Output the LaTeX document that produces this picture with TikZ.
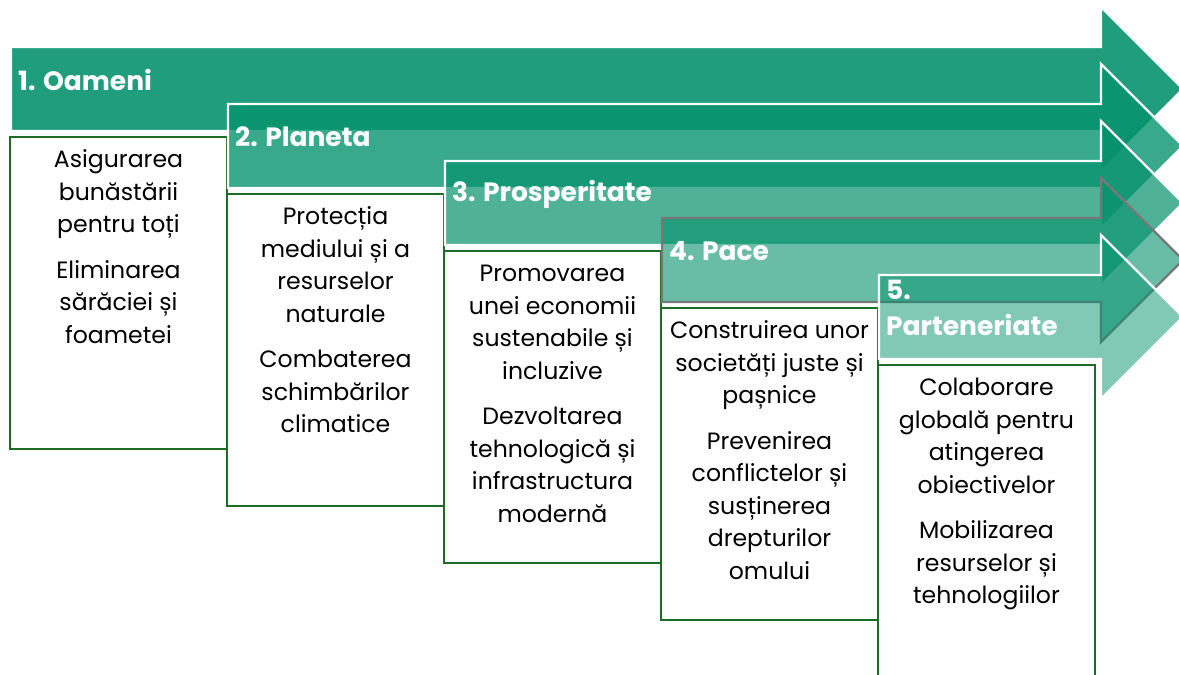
\documentclass[tikz,border=0pt]{standalone}
\usepackage{fontspec}
\setmainfont{Poppins}
\definecolor{arrowgreen}{RGB}{5,146,108}
\definecolor{boxgreen}{RGB}{28,108,38}
\definecolor{outgray}{RGB}{120,120,120}
\tikzset{
  arrowshape/.style={fill=arrowgreen, line width=2.2pt, line join=miter},
  boxshape/.style={draw=boxgreen, fill=white, line width=2.7pt},
  hdr/.style={text=white, font=\fontsize{26.5}{36}\selectfont\bfseries, inner sep=0pt, anchor=west, align=left},
  bodytxt/.style={text=black, font=\fontsize{23.6}{32.5}\selectfont, inner sep=0pt, anchor=north, align=center}
}
\begin{document}
\begin{tikzpicture}[x=1pt,y=-1pt]
\useasboundingbox (0,0) rectangle (1179,675);
\clip (0,0) rectangle (1179,675);
\fill[white] (0,0) rectangle (1179,675);
% arrows and boxes
\foreach \k/\op/\oc in {0/0.89/white,1/0.79/white,2/0.70/white,3/0.60/outgray,4/0.50/white}{
  \pgfmathsetmacro{\X}{11+217*\k}
  \pgfmathsetmacro{\T}{47+57*\k}
  \pgfmathsetmacro{\B}{131+57*\k}
  \draw[arrowshape, fill opacity=\op, draw=\oc]
    (\X,\T) -- (1101,\T) -- (1101,\T-40) -- (1183,\T+42) -- (1101,\B+40) -- (1101,\B) -- (\X,\B) -- cycle;
  \draw[boxshape] (\X-1,\B+6) rectangle (\X+216,\B+318);
}
% headers
\node[hdr] (h1) at (18,80) {1. Oameni};
\node[hdr] (h2) at (235,137) {2. Planeta};
\node[hdr] (h3) at (452,194) {3. Prosperitate};
\node[hdr] (h4) at (669,251) {4. Pace};
\node[hdr] (h5) at (886,308) {5.\\Parteneriate};
% box texts
\node[bodytxt] (t1) at (118.5,145) {\strut Asigurarea\\ bunăstării\\ pentru toți\\[13pt] Eliminarea\\ sărăciei și\\ foametei};
\node[bodytxt] (t2) at (335.5,202) {\strut Protecția\\ mediului și a\\ resurselor\\ naturale\\[13pt] Combaterea\\ schimbărilor\\ climatice};
\node[bodytxt] (t3) at (552.5,259) {\strut Promovarea\\ unei economii\\ sustenabile și\\ incluzive\\[13pt] Dezvoltarea\\ tehnologică și\\ infrastructura\\ modernă};
\node[bodytxt] (t4) at (769.5,316) {\strut Construirea unor\\ societăți juste și\\ pașnice\\[13pt] Prevenirea\\ conflictelor și\\ susținerea\\ drepturilor\\ omului};
\node[bodytxt] (t5) at (986.5,373) {\strut Colaborare\\ globală pentru\\ atingerea\\ obiectivelor\\[13pt] Mobilizarea\\ resurselor și\\ tehnologiilor};
\end{tikzpicture}
\end{document}
